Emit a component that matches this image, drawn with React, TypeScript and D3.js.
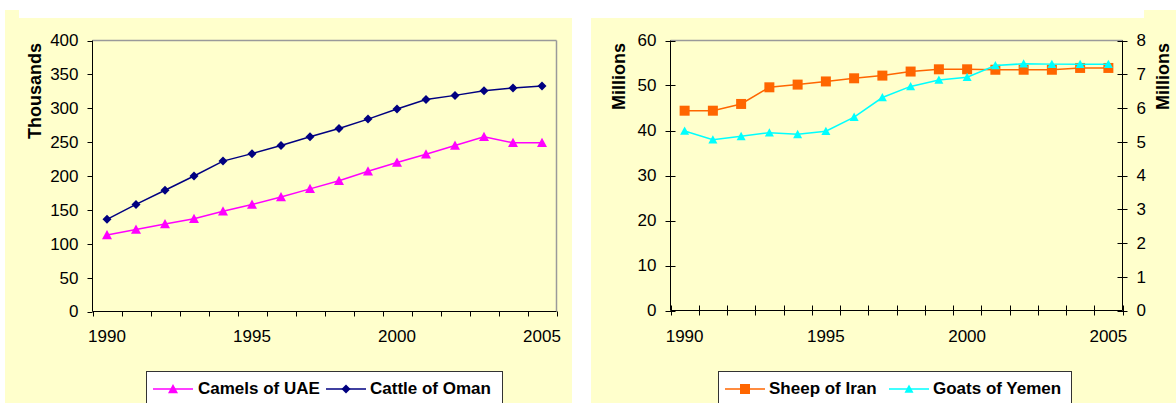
import React, {useEffect, useRef} from 'react';
import * as d3 from "d3";

// categories
const years = [1990, 1991, 1992, 1993, 1994, 1995, 1996, 1997, 1998, 1999, 2000, 2001, 2002, 2003, 2004, 2005];
const yearLabels = [1990, 1995, 2000, 2005];

// left chart, thousands
const camelsUAE = [113, 121, 129, 137, 148, 158, 169, 181, 193, 207, 220, 232, 245, 258, 249, 249];
const cattleOman = [136, 158, 179, 200, 222, 233, 245, 258, 270, 284, 299, 313, 319, 326, 330, 333];
const thousandsTicks = [0, 50, 100, 150, 200, 250, 300, 350, 400];

// right chart, millions
const sheepIran = [44.4, 44.4, 45.9, 49.6, 50.2, 50.9, 51.6, 52.2, 53.1, 53.6, 53.6, 53.5, 53.5, 53.5, 53.9, 53.9];
const goatsYemen = [5.32, 5.06, 5.16, 5.27, 5.22, 5.31, 5.73, 6.31, 6.64, 6.83, 6.91, 7.26, 7.31, 7.30, 7.30, 7.30];
const leftMillionsTicks = [0, 10, 20, 30, 40, 50, 60];
const rightMillionsTicks = [0, 1, 2, 3, 4, 5, 6, 7, 8];

const FONT = "'Liberation Sans', Arial, sans-serif";
const PANEL = "#FFFFCC";

type Marker = "triangle" | "diamond" | "square";

function markerPath(kind: Marker, s: number) {
    if (kind === "diamond") return `M0,${-s} L${s},0 L0,${s} L${-s},0 Z`;
    if (kind === "square") return `M${-s},${-s} H${s} V${s} H${-s} Z`;
    return `M0,${-s} L${s},${s * 0.85} L${-s},${s * 0.85} Z`;
}

interface ISeries {
    name: string,
    values: number[],
    color: string,
    marker: Marker,
    size: number,
    axis: "left" | "right"
}

interface IChartOpts {
    x0: number, x1: number, y0: number, y1: number,
    leftTicks: number[],
    rightTicks?: number[],
    crossTicks: boolean,
    leftTitle: string, leftTitleX: number,
    rightTitle?: string, rightTitleX?: number,
    series: ISeries[],
    legend: {x: number, w: number, items: {lineX: number, textX: number}[]}
}

function drawChart(svg: any, o: IChartOpts) {
    const xScale = d3.scaleBand<number>()
        .domain(years)
        .range([o.x0, o.x1])
        .padding(0);
    const bw = xScale.bandwidth();

    const yLeft = d3.scaleLinear()
        .domain([0, o.leftTicks[o.leftTicks.length - 1]])
        .range([o.y1, o.y0]);
    const yRight = o.rightTicks ? d3.scaleLinear()
        .domain([0, o.rightTicks[o.rightTicks.length - 1]])
        .range([o.y1, o.y0]) : yLeft;

    const g = svg.append("g");

    //frame: grey top and right border
    g.append("line")
        .attr("x1", o.x0).attr("x2", o.x1)
        .attr("y1", o.y0).attr("y2", o.y0)
        .attr("stroke", "#9a9a9a").attr("stroke-width", 1.5);
    if (!o.rightTicks) {
        g.append("line")
            .attr("x1", o.x1).attr("x2", o.x1)
            .attr("y1", o.y0).attr("y2", o.y1)
            .attr("stroke", "#9a9a9a").attr("stroke-width", 1.5);
    }

    //axes lines
    g.append("line")
        .attr("x1", o.x0).attr("x2", o.x0)
        .attr("y1", o.y0).attr("y2", o.y1)
        .attr("stroke", "black");
    g.append("line")
        .attr("x1", o.x0).attr("x2", o.x1)
        .attr("y1", o.y1).attr("y2", o.y1)
        .attr("stroke", "black");

    const tIn = o.crossTicks ? 5 : 0;

    //left y ticks
    o.leftTicks.forEach(t => {
        const yy = Math.round(yLeft(t)) + 0.5;
        g.append("line")
            .attr("x1", o.x0 - 5).attr("x2", o.x0 + tIn)
            .attr("y1", yy).attr("y2", yy)
            .attr("stroke", "black");
        g.append("text")
            .attr("x", o.x0 - 14).attr("y", yLeft(t))
            .attr("dy", "0.35em")
            .attr("text-anchor", "end")
            .attr("font-size", 17)
            .attr("font-family", FONT)
            .text(t);
    });

    //right y axis
    if (o.rightTicks) {
        g.append("line")
            .attr("x1", o.x1).attr("x2", o.x1)
            .attr("y1", o.y0).attr("y2", o.y1)
            .attr("stroke", "black");
        o.rightTicks.forEach(t => {
            const yy = Math.round(yRight(t)) + 0.5;
            g.append("line")
                .attr("x1", o.x1 - 5).attr("x2", o.x1 + 5)
                .attr("y1", yy).attr("y2", yy)
                .attr("stroke", "black");
            g.append("text")
                .attr("x", o.x1 + 14).attr("y", yRight(t))
                .attr("dy", "0.35em")
                .attr("text-anchor", "start")
                .attr("font-size", 17)
                .attr("font-family", FONT)
                .text(t);
        });
    }

    //x ticks on the category boundaries
    const bounds = years.map(yr => xScale(yr) as number).concat([o.x1]);
    bounds.forEach(bx => {
        const xx = Math.round(bx) + 0.5;
        g.append("line")
            .attr("x1", xx).attr("x2", xx)
            .attr("y1", o.y1 - tIn).attr("y2", o.y1 + 5)
            .attr("stroke", "black");
    });
    yearLabels.forEach(yr => {
        g.append("text")
            .attr("x", (xScale(yr) as number) + bw / 2)
            .attr("y", 342)
            .attr("text-anchor", "middle")
            .attr("font-size", 17)
            .attr("font-family", FONT)
            .text(yr);
    });

    //axis titles
    g.append("text")
        .attr("transform", `translate(${o.leftTitleX},43) rotate(-90)`)
        .attr("text-anchor", "end")
        .attr("font-size", 18)
        .attr("font-weight", "bold")
        .attr("font-family", FONT)
        .text(o.leftTitle);
    if (o.rightTitle) {
        g.append("text")
            .attr("transform", `translate(${o.rightTitleX},43) rotate(-90)`)
            .attr("text-anchor", "end")
            .attr("font-size", 18)
            .attr("font-weight", "bold")
            .attr("font-family", FONT)
            .text(o.rightTitle);
    }

    //series
    o.series.forEach(s => {
        const yS = s.axis === "right" ? yRight : yLeft;
        const line = d3.line<number>()
            .x((d, i) => (xScale(years[i]) as number) + bw / 2)
            .y(d => yS(d));
        g.append("path")
            .attr("d", line(s.values))
            .attr("fill", "none")
            .attr("stroke", s.color)
            .attr("stroke-width", 1.5);
        g.selectAll(null)
            .data(s.values)
            .enter()
            .append("path")
            .attr("d", markerPath(s.marker, s.size))
            .attr("transform", (d: number, i: number) =>
                `translate(${(xScale(years[i]) as number) + bw / 2},${yS(d)})`)
            .attr("fill", s.color);
    });

    //legend
    const ly = 389;
    g.append("rect")
        .attr("x", o.legend.x + 0.5).attr("y", 371.5)
        .attr("width", o.legend.w).attr("height", 50)
        .attr("fill", "white")
        .attr("stroke", "#333");
    o.series.forEach((s, i) => {
        const it = o.legend.items[i];
        g.append("line")
            .attr("x1", it.lineX).attr("x2", it.lineX + 40)
            .attr("y1", ly).attr("y2", ly)
            .attr("stroke", s.color).attr("stroke-width", 1.5);
        g.append("path")
            .attr("d", markerPath(s.marker, s.size))
            .attr("transform", `translate(${it.lineX + 20},${ly})`)
            .attr("fill", s.color);
        g.append("text")
            .attr("x", it.textX).attr("y", 394)
            .attr("font-size", 17)
            .attr("font-weight", "bold")
            .attr("font-family", FONT)
            .text(s.name);
    });
}

export default function App() {
    const ref = useRef<SVGSVGElement>(null);

    useEffect(() => {
        const svg = d3.select(ref.current);
        svg.selectAll("*").remove();

        //panels
        svg.append("rect").attr("x", 5).attr("y", 10)
            .attr("width", 567).attr("height", 400).attr("fill", PANEL);
        svg.append("rect").attr("x", 591).attr("y", 10)
            .attr("width", 590).attr("height", 400).attr("fill", PANEL);
        svg.append("rect").attr("x", 19).attr("y", 0)
            .attr("width", 1125).attr("height", 18).attr("fill", "white");

        drawChart(svg, {
            x0: 92.5, x1: 556.5, y0: 40.5, y1: 311.5,
            leftTicks: thousandsTicks,
            crossTicks: false,
            leftTitle: "Thousands", leftTitleX: 41,
            series: [
                {name: "Camels of UAE", values: camelsUAE, color: "#FF00FF", marker: "triangle", size: 5, axis: "left"},
                {name: "Cattle of Oman", values: cattleOman, color: "#000080", marker: "diamond", size: 4.5, axis: "left"}
            ],
            legend: {x: 146, w: 356, items: [{lineX: 153, textX: 198}, {lineX: 326, textX: 370}]}
        });

        drawChart(svg, {
            x0: 670.5, x1: 1122.5, y0: 40.5, y1: 310.5,
            leftTicks: leftMillionsTicks,
            rightTicks: rightMillionsTicks,
            crossTicks: true,
            leftTitle: "Millions", leftTitleX: 625,
            rightTitle: "Millions", rightTitleX: 1169,
            series: [
                {name: "Sheep of Iran", values: sheepIran, color: "#FF6600", marker: "square", size: 5, axis: "left"},
                {name: "Goats of Yemen", values: goatsYemen, color: "#00FFFF", marker: "triangle", size: 4.5, axis: "right"}
            ],
            legend: {x: 718, w: 353, items: [{lineX: 725, textX: 769}, {lineX: 889, textX: 933}]}
        });
    }, []);

    return (
        <svg ref={ref} width={1176} height={403}
             style={{position: "absolute", left: 0, top: 0, display: "block"}}/>
    );
}
